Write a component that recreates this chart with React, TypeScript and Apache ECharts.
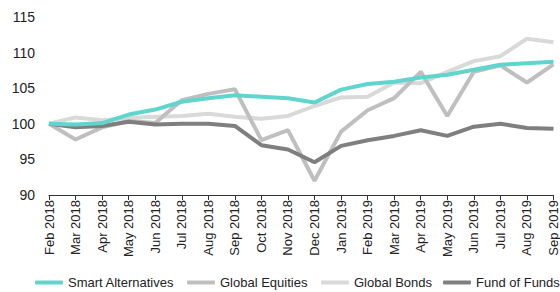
import React, { useEffect, useRef } from "react";
import * as echarts from "echarts";

const categories = [
  "Feb 2018", "Mar 2018", "Apr 2018", "May 2018", "Jun 2018", "Jul 2018", "Aug 2018",
  "Sep 2018", "Oct 2018", "Nov 2018", "Dec 2018", "Jan 2019", "Feb 2019", "Mar 2019",
  "Apr 2019", "May 2019", "Jun 2019", "Jul 2019", "Aug 2019", "Sep 2019",
];

const smartAlternatives = [100, 99.9, 100.1, 101.3, 102.0, 103.1, 103.6, 104.0, 103.8, 103.6, 103.0, 104.8, 105.6, 105.9, 106.5, 106.9, 107.6, 108.3, 108.5, 108.7];
const globalEquities = [100, 97.8, 99.5, 100.4, 100.1, 103.3, 104.2, 104.85, 97.7, 99.1, 92.0, 98.9, 101.9, 103.6, 107.3, 101.1, 107.3, 108.2, 105.8, 108.35];
const globalBonds = [100, 100.9, 100.5, 100.8, 101.0, 101.1, 101.4, 101.0, 100.7, 101.1, 102.5, 103.7, 103.8, 105.8, 105.7, 107.3, 108.8, 109.5, 111.95, 111.45];
const fundOfFunds = [100, 99.5, 99.7, 100.3, 99.9, 100.0, 100.0, 99.7, 97.0, 96.4, 94.6, 96.9, 97.7, 98.3, 99.1, 98.3, 99.6, 100.0, 99.4, 99.3];

const seriesNames = ["Smart Alternatives", "Global Equities", "Global Bonds", "Fund of Funds"];
const seriesData = [smartAlternatives, globalEquities, globalBonds, fundOfFunds];
const colors = ["#5ed6cd", "#bfbfbf", "#d9d9d9", "#7f7f7f"];
const legendLeft = [35, 187, 321, 443];

const FONT = "'Liberation Sans', Arial, sans-serif";

export default function App() {
  const ref = useRef<HTMLDivElement>(null);
  useEffect(() => {
    if (!ref.current) return;
    const chart = echarts.init(ref.current, undefined, { renderer: "svg" });
    chart.setOption({
      animation: false,
      color: colors,
      textStyle: { fontFamily: FONT },
      grid: { left: 49, right: 5, top: 17, bottom: 97, containLabel: false },
      legend: seriesNames.map((name, i) => ({
        top: 276,
        left: legendLeft[i],
        itemWidth: 28,
        itemHeight: 4,
        icon: "roundRect",
        padding: 0,
        textStyle: { fontSize: 13, color: "#222", fontFamily: FONT },
        data: [name],
      })),
      xAxis: {
        type: "category",
        data: categories,
        boundaryGap: false,
        axisLine: { lineStyle: { color: "#333", width: 1 } },
        axisTick: { show: true, length: 5, lineStyle: { color: "#333" } },
        axisLabel: { rotate: 90, fontSize: 13, color: "#222", margin: 5, interval: 0, fontFamily: FONT },
      },
      yAxis: {
        type: "value",
        min: 90,
        max: 115,
        interval: 5,
        axisLine: { show: false },
        axisTick: { show: false },
        splitLine: { show: false },
        axisLabel: { fontSize: 14, color: "#222", margin: 14, fontFamily: FONT },
      },
      series: seriesNames.map((name, i) => ({
        name,
        type: "line",
        data: seriesData[i],
        showSymbol: false,
        symbol: "none",
        lineStyle: { width: 4, color: colors[i] },
        z: [4, 2, 1, 3][i],
      })),
    });
    return () => chart.dispose();
  }, []);
  return <div ref={ref} style={{ width: 560, height: 292, position: "absolute", left: 0, top: 0 }} />;
}
